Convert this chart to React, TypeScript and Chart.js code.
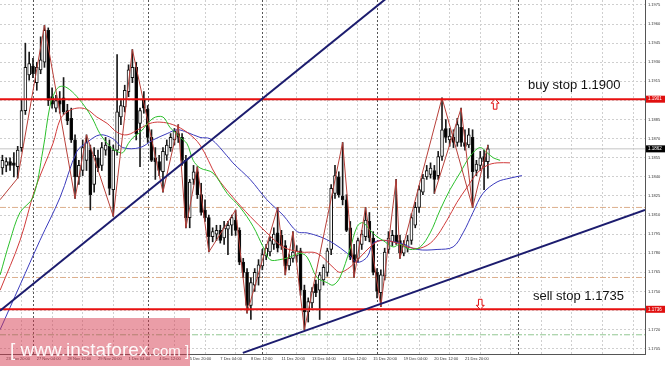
import { useEffect, useRef } from "react";
import { Chart, registerables } from "chart.js";

Chart.register(...registerables);

// ---------- scale ranges ----------
const X_MIN = -8.63;
const X_MAX = 160.1;
const Y_MIN = 1.17009;
const Y_MAX = 1.19789;

// ---------- candles (H4 bars, index 0 = 27 Nov 00:00) ----------
const FIRST_BAR = -8;
const candleOpen = [
  1.1847, 1.1849, 1.1852, 1.1851, 1.1848, 1.1863, 1.1892, 1.1920, // -8..-1
  1.1927, 1.1914, 1.1924, 1.1930, 1.1955, 1.1903, 1.1894, 1.1900, 1.1902, 1.1892, // 0..9
  1.1886, 1.1869, 1.1840, 1.1845, 1.1853, 1.1861, 1.1834, 1.1855, 1.1849, 1.1861, // 10..19
  1.1864, 1.1830, 1.1861, 1.1887, 1.1895, 1.1907, 1.1918, 1.1926, 1.1882, 1.1901, // 20..29
  1.1893, 1.1871, 1.1855, 1.1852, 1.1844, 1.1857, 1.1863, 1.1869, 1.1874, 1.1871, // 30..39
  1.1853, 1.1808, 1.1838, 1.1844, 1.1826, 1.1814, 1.1808, 1.1793, 1.1795, 1.1798, // 40..49
  1.1792, 1.1799, 1.1802, 1.1806, 1.1798, 1.1773, 1.1765, 1.1739, 1.1755, 1.1761, // 50..59
  1.1770, 1.1778, 1.1781, 1.1787, 1.1796, 1.1794, 1.1786, 1.1770, 1.1776, 1.1778, // 60..69
  1.1782, 1.1751, 1.1734, 1.1741, 1.1756, 1.1751, 1.1759, 1.1765, 1.1783, 1.1827, // 70..79
  1.1840, 1.1825, 1.1822, 1.1800, 1.1779, 1.1776, 1.1787, 1.1793, 1.1805, 1.1792, // 80..89
  1.1765, 1.1749, 1.1762, 1.1783, 1.1789, 1.1794, 1.1790, 1.1780, 1.1784, 1.1790, // 90..99
  1.1802, 1.1816, 1.1828, 1.1840, 1.1842, 1.1845, 1.1841, 1.1856, 1.1878, 1.1869, // 100..109
  1.1871, 1.1867, 1.1879, 1.1867, 1.1865, 1.1871, 1.1845, 1.1849, 1.1856, 1.1852, // 110..119
];
const candleHigh = [
  1.1857, 1.1855, 1.1855, 1.1859, 1.1864, 1.1900, 1.1945, 1.1938,
  1.1933, 1.1930, 1.1950, 1.1959, 1.1957, 1.1910, 1.1904, 1.1907, 1.1918, 1.1897,
  1.1894, 1.1873, 1.1853, 1.1869, 1.1873, 1.1865, 1.1863, 1.1861, 1.1867, 1.1871,
  1.1869, 1.1865, 1.1936, 1.1900, 1.1912, 1.1928, 1.1940, 1.1930, 1.1894, 1.1907,
  1.1896, 1.1877, 1.1863, 1.1857, 1.1863, 1.1869, 1.1874, 1.1878, 1.1881, 1.1874,
  1.1857, 1.1838, 1.1849, 1.1848, 1.1835, 1.1822, 1.1810, 1.1800, 1.1802, 1.1802,
  1.1805, 1.1805, 1.1810, 1.1814, 1.1800, 1.1776, 1.1768, 1.1761, 1.1768, 1.1775,
  1.1783, 1.1787, 1.1793, 1.1800, 1.1816, 1.1798, 1.1790, 1.1779, 1.1797, 1.1786,
  1.1784, 1.1755, 1.1745, 1.1753, 1.1759, 1.1765, 1.1771, 1.1784, 1.1834, 1.1849,
  1.1844, 1.1867, 1.1826, 1.1805, 1.1787, 1.1792, 1.1798, 1.1816, 1.1812, 1.1797,
  1.1768, 1.1767, 1.1784, 1.1797, 1.1798, 1.1838, 1.1794, 1.1790, 1.1794, 1.1811,
  1.1820, 1.1833, 1.1842, 1.1849, 1.1851, 1.1849, 1.1860, 1.1902, 1.1885, 1.1878,
  1.1877, 1.1886, 1.1894, 1.1877, 1.1878, 1.1877, 1.1853, 1.1860, 1.1861, 1.1865,
];
const candleLow = [
  1.1842, 1.1844, 1.1845, 1.1840, 1.1839, 1.1860, 1.1889, 1.1916,
  1.1918, 1.1908, 1.1921, 1.1926, 1.1896, 1.1894, 1.1891, 1.1890, 1.1889, 1.1881,
  1.1867, 1.1823, 1.1834, 1.1841, 1.1845, 1.1814, 1.1828, 1.1844, 1.1845, 1.1857,
  1.1826, 1.1809, 1.1857, 1.1881, 1.1891, 1.1903, 1.1914, 1.1869, 1.1848, 1.1890,
  1.1867, 1.1852, 1.1838, 1.1841, 1.1828, 1.1853, 1.1860, 1.1865, 1.1867, 1.1849,
  1.1800, 1.1800, 1.1834, 1.1823, 1.1810, 1.1805, 1.1781, 1.1789, 1.1790, 1.1788,
  1.1787, 1.1779, 1.1794, 1.1794, 1.1771, 1.1761, 1.1733, 1.1728, 1.1750, 1.1755,
  1.1767, 1.1775, 1.1778, 1.1783, 1.1781, 1.1783, 1.1763, 1.1767, 1.1773, 1.1773,
  1.1747, 1.1720, 1.1726, 1.1737, 1.1746, 1.1728, 1.1755, 1.1762, 1.1779, 1.1823,
  1.1824, 1.1818, 1.1797, 1.1775, 1.1761, 1.1773, 1.1783, 1.1790, 1.1789, 1.1763,
  1.1745, 1.1738, 1.1759, 1.1780, 1.1786, 1.1787, 1.1776, 1.1778, 1.1781, 1.1787,
  1.1800, 1.1812, 1.1826, 1.1838, 1.1839, 1.1827, 1.1838, 1.1853, 1.1867, 1.1864,
  1.1863, 1.1864, 1.1864, 1.1861, 1.1863, 1.1816, 1.1841, 1.1845, 1.1830, 1.1839,
];
const candleClose = [
  1.1853, 1.1852, 1.1849, 1.1849, 1.1861, 1.1892, 1.1926, 1.1929,
  1.1921, 1.1926, 1.1932, 1.1955, 1.1900, 1.1897, 1.1900, 1.1897, 1.1891, 1.1884,
  1.1869, 1.1840, 1.1849, 1.1863, 1.1867, 1.1826, 1.1857, 1.1847, 1.1863, 1.1865,
  1.1831, 1.1861, 1.1891, 1.1896, 1.1908, 1.1924, 1.1926, 1.1874, 1.1892, 1.1894,
  1.1871, 1.1853, 1.1852, 1.1845, 1.1860, 1.1865, 1.1871, 1.1876, 1.1871, 1.1853,
  1.1808, 1.1836, 1.1844, 1.1826, 1.1812, 1.1808, 1.1793, 1.1797, 1.1798, 1.1790,
  1.1800, 1.1802, 1.1808, 1.1798, 1.1773, 1.1765, 1.1739, 1.1757, 1.1765, 1.1771,
  1.1779, 1.1784, 1.1790, 1.1795, 1.1784, 1.1786, 1.1770, 1.1776, 1.1781, 1.1782,
  1.1751, 1.1734, 1.1742, 1.1750, 1.1749, 1.1763, 1.1769, 1.1782, 1.1831, 1.1841,
  1.1826, 1.1822, 1.1798, 1.1777, 1.1773, 1.1790, 1.1795, 1.1806, 1.1792, 1.1765,
  1.1750, 1.1763, 1.1781, 1.1792, 1.1794, 1.1789, 1.1780, 1.1787, 1.1790, 1.1808,
  1.1816, 1.1830, 1.1839, 1.1845, 1.1847, 1.1838, 1.1856, 1.1877, 1.1871, 1.1872,
  1.1867, 1.1881, 1.1867, 1.1864, 1.1873, 1.1844, 1.1850, 1.1855, 1.1852, 1.1862,
];

// ---------- axis ticks ----------
const xTickBars = [-7, 1, 9, 17, 25, 33, 41, 49, 57, 65, 73, 81, 89, 97, 105, 113];
const xTickLabels = [
  "23 Nov 20:00", "27 Nov 04:00", "28 Nov 12:00", "29 Nov 20:00", "1 Dec 04:00",
  "4 Dec 12:00", "5 Dec 20:00", "7 Dec 04:00", "8 Dec 12:00", "11 Dec 20:00",
  "13 Dec 04:00", "14 Dec 12:00", "15 Dec 20:00", "19 Dec 04:00", "20 Dec 12:00",
  "21 Dec 20:00",
];
const yTicks = [
  1.1705, 1.1720, 1.1735, 1.1750, 1.1765, 1.1780, 1.1795, 1.1810, 1.1825, 1.1840,
  1.1855, 1.1870, 1.1885, 1.1900, 1.1915, 1.1930, 1.1945, 1.1960, 1.1975,
];
const separatorBars = [0, 30, 60, 90, 126.9];

// ---------- Alligator lines (bar index, price) ----------
const jawLine: [number, number][] = [
  [-8.6, 1.1720], [-3.4, 1.1755], [1.8, 1.1790], [7.1, 1.1824], [11.5, 1.1860],
  [14.1, 1.1867], [17.5, 1.1873], [20.9, 1.1870], [23.5, 1.1863], [28.0, 1.1863],
  [31.4, 1.1869], [35.1, 1.1874], [37.7, 1.1877], [40.3, 1.1875], [43.7, 1.1871],
  [46.3, 1.1870], [48.9, 1.1863], [52.3, 1.1851], [56.8, 1.1838], [61.2, 1.1822],
  [65.4, 1.1810], [69.1, 1.1797], [71.7, 1.1796], [75.1, 1.1793], [78.5, 1.1788],
  [82.2, 1.1780], [84.8, 1.1773], [87.4, 1.1777], [89.0, 1.1788], [91.6, 1.1790],
  [96.0, 1.1788], [100.5, 1.1783], [105.7, 1.1783], [109.9, 1.1785], [112.5, 1.1796],
  [115.1, 1.1812], [117.7, 1.1827], [121.4, 1.1836], [124.8, 1.1839], [127.9, 1.1841],
];
const teethLine: [number, number][] = [
  [-8.6, 1.1751], [-3.4, 1.1790], [0.5, 1.1830], [5.2, 1.1866], [7.1, 1.1885],
  [8.9, 1.1891], [11.5, 1.1894], [14.1, 1.1893], [16.7, 1.1887], [19.4, 1.1882],
  [22.0, 1.1875], [24.6, 1.1873], [28.0, 1.1878], [30.6, 1.1882], [33.2, 1.1883],
  [36.6, 1.1881], [40.3, 1.1875], [43.7, 1.1865], [48.1, 1.1840], [52.3, 1.1824],
  [56.8, 1.1809], [61.2, 1.1796], [65.4, 1.1785], [69.9, 1.1781], [74.3, 1.1780],
  [78.5, 1.1769], [80.3, 1.1765], [82.9, 1.1769], [85.6, 1.1777], [88.2, 1.1785],
  [90.8, 1.1790], [94.2, 1.1789], [97.9, 1.1785], [101.3, 1.1784], [104.7, 1.1790],
  [108.3, 1.1806], [110.9, 1.1820], [113.6, 1.1832], [116.2, 1.1843], [118.8, 1.1849],
  [121.4, 1.1851], [124.8, 1.1851],
];
const lipsLine: [number, number][] = [
  [-8.6, 1.1763], [-6.0, 1.1790], [-3.4, 1.1812], [0, 1.1824], [2.6, 1.1861],
  [4.4, 1.1895], [5.8, 1.1907], [7.1, 1.1911], [8.9, 1.1910], [11.5, 1.1903],
  [14.1, 1.1893], [15.7, 1.1885], [17.5, 1.1874], [20.1, 1.1864], [22.0, 1.1860],
  [23.5, 1.1859], [24.9, 1.1866], [26.2, 1.1871], [28.0, 1.1875], [31.4, 1.1886],
  [34.0, 1.1887], [35.8, 1.1879], [38.5, 1.1871], [40.3, 1.1866], [41.9, 1.1853],
  [43.7, 1.1847], [47.1, 1.1843], [50.8, 1.1827], [54.2, 1.1816], [57.6, 1.1801],
  [60.2, 1.1785], [62.0, 1.1775], [64.6, 1.1775], [67.2, 1.1777], [69.9, 1.1780],
  [71.7, 1.1777], [74.3, 1.1761], [76.9, 1.1757], [78.5, 1.1755], [80.3, 1.1761],
  [82.9, 1.1783], [84.8, 1.1801], [86.3, 1.1804], [88.2, 1.1798], [90.0, 1.1793],
  [91.6, 1.1790], [94.2, 1.1785], [96.0, 1.1787], [98.6, 1.1783], [101.3, 1.1785],
  [103.9, 1.1796], [106.5, 1.1814], [109.1, 1.1830], [111.7, 1.1843], [114.3, 1.1856],
  [116.9, 1.1863], [118.8, 1.1859], [120.4, 1.1855], [122.2, 1.1853],
];

// ---------- ZigZag pivots ----------
const zigzagMain: [number, number][] = [
  [-8.63, 1.1822], [-4, 1.1839], [3, 1.1959], [11, 1.1823], [14, 1.1873], [21, 1.1809],
  [26, 1.1940], [34, 1.1828], [38, 1.1881], [40, 1.1800], [43, 1.1848], [46, 1.1781],
  [53, 1.1814], [56, 1.1733], [64, 1.1816], [66, 1.1763], [68, 1.1797], [71, 1.1720],
  [81, 1.1867], [84, 1.1761], [87, 1.1816], [91, 1.1738], [95, 1.1838], [96, 1.1776],
  [107, 1.1902], [115, 1.1816], [119, 1.1865],
];
const zigzagMinor: [number, number][] = [[105, 1.1827], [112, 1.1894], [115, 1.1816]];

// ---------- objects ----------
const buyStopLevel = 1.1901;
const sellStopLevel = 1.1736;
const bidLevel = 1.1862;
const dashDotLevels = [1.1816, 1.1761];
const greenDashLevel = 1.1716;
const trendLineA: [number, number][] = [[-8.63, 1.17348], [100, 1.19985]];
const trendLineB: [number, number][] = [[54.9, 1.17018], [160.1, 1.1814]];
const buyArrow = { bar: 120.9, price: 1.1901 };
const sellArrow = { bar: 117.0, price: 1.1736 };
const buyText = { bar: 129.5, price: 1.1909, text: "buy stop 1.1900" };
const sellText = { bar: 130.8, price: 1.17434, text: "sell stop 1.1735" };
const axisTags = [
  { level: 1.1901, text: "1.1901", color: "#e01010" },
  { level: 1.1862, text: "1.1862", color: "#000000" },
  { level: 1.1736, text: "1.1736", color: "#e01010" },
];
const watermarkText = ["[ www.instaforex", ".com ]"];

const bars = candleOpen.map((_, k) => FIRST_BAR + k);
const pts = (arr: [number, number][]) => arr.map(([x, y]) => ({ x, y }));
const hLine = (level: number) => [{ x: X_MIN, y: level }, { x: X_MAX, y: level }];

const lineDs = (data: any[], color: string, width: number, order: number, extra: any = {}) => ({
  type: "line" as const,
  data,
  borderColor: color,
  borderWidth: width,
  pointRadius: 0,
  fill: false,
  order,
  ...extra,
});

const overlayPlugin = {
  id: "overlay",
  beforeDatasetsDraw(chart: any) {
    const { ctx, chartArea: a, scales } = chart;
    const x = scales.x;
    ctx.save();
    ctx.strokeStyle = "#555555";
    ctx.lineWidth = 1;
    ctx.setLineDash([2, 2]);
    separatorBars.forEach((b) => {
      const px = Math.round(x.getPixelForValue(b)) + 0.5;
      ctx.beginPath();
      ctx.moveTo(px, a.top);
      ctx.lineTo(px, a.bottom);
      ctx.stroke();
    });
    ctx.restore();
  },
  afterDatasetsDraw(chart: any) {
    const { ctx, scales } = chart;
    const x = scales.x;
    const y = scales.y;
    ctx.save();
    // arrows
    const drawArrow = (bx: number, price: number, up: boolean) => {
      const cx = x.getPixelForValue(bx);
      const py = y.getPixelForValue(price);
      const dir = up ? 1 : -1;
      const t = py; // anchor
      ctx.beginPath();
      ctx.moveTo(cx, t);
      ctx.lineTo(cx + 4, t + dir * 4);
      ctx.lineTo(cx + 1.8, t + dir * 4);
      ctx.lineTo(cx + 1.8, t + dir * 10);
      ctx.lineTo(cx - 1.8, t + dir * 10);
      ctx.lineTo(cx - 1.8, t + dir * 4);
      ctx.lineTo(cx - 4, t + dir * 4);
      ctx.closePath();
      ctx.fillStyle = "#ffffff";
      ctx.fill();
      ctx.strokeStyle = "#e01010";
      ctx.lineWidth = 1;
      ctx.stroke();
    };
    drawArrow(buyArrow.bar, buyArrow.price, true);
    drawArrow(sellArrow.bar, sellArrow.price, false);
    // texts
    ctx.fillStyle = "#111111";
    ctx.font = '13px "Liberation Sans", Arial, sans-serif';
    ctx.textAlign = "left";
    ctx.textBaseline = "alphabetic";
    [buyText, sellText].forEach((t) => {
      ctx.fillText(t.text, x.getPixelForValue(t.bar), y.getPixelForValue(t.price));
    });
    ctx.restore();
  },
  afterDraw(chart: any) {
    const { ctx, chartArea: a, scales } = chart;
    const y = scales.y;
    ctx.save();
    axisTags.forEach((t) => {
      const py = y.getPixelForValue(t.level);
      ctx.fillStyle = t.color;
      ctx.fillRect(a.right + 1, py - 3.5, 19, 7);
      ctx.fillStyle = "#ffffff";
      ctx.font = '4.5px "Liberation Sans", Arial, sans-serif';
      ctx.textAlign = "left";
      ctx.textBaseline = "middle";
      ctx.fillText(t.text, a.right + 3, py);
    });
    // watermark
    ctx.fillStyle = "rgba(214, 60, 80, 0.5)";
    ctx.fillRect(0, 318, 190, 48);
    ctx.fillStyle = "rgba(255,255,255,0.95)";
    ctx.textBaseline = "alphabetic";
    ctx.textAlign = "left";
    ctx.font = '19px "Liberation Sans", Arial, sans-serif';
    ctx.fillText(watermarkText[0], 10, 356);
    const w = ctx.measureText(watermarkText[0]).width;
    ctx.font = '15px "Liberation Sans", Arial, sans-serif';
    ctx.fillText(watermarkText[1], 10 + w, 356);
    ctx.restore();
  },
};

export default function App() {
  const ref = useRef<HTMLCanvasElement>(null);
  useEffect(() => {
    document.body.style.margin = "0";
    const tickFont = { family: '"Liberation Sans", Arial, sans-serif', size: 4 };
    const chart = new Chart(ref.current as HTMLCanvasElement, {
      type: "line",
      data: {
        datasets: [
          lineDs(hLine(bidLevel), "#c4c4c4", 1, 40),
          ...dashDotLevels.map((lv) => lineDs(hLine(lv), "#dcae8c", 1, 40, { borderDash: [6, 2, 2, 2] })),
          lineDs(hLine(greenDashLevel), "#92c892", 1, 40, { borderDash: [6, 2, 2, 2] }),
          {
            type: "bar" as const,
            data: bars.map((b, k) => ({ x: b, y: [candleLow[k], candleHigh[k]] })),
            backgroundColor: "#1a1a1a",
            borderWidth: 0,
            barThickness: 1,
            grouped: false,
            order: 31,
          },
          {
            type: "bar" as const,
            data: bars.map((b, k) => ({ x: b, y: [candleOpen[k], candleClose[k]] })),
            backgroundColor: bars.map((_, k) => (candleClose[k] >= candleOpen[k] ? "#ffffff" : "#000000")),
            borderColor: "#111111",
            borderWidth: 1,
            borderSkipped: false,
            barThickness: 3,
            grouped: false,
            order: 30,
          },
          lineDs(pts(jawLine), "#3b3bbd", 1, 12, { tension: 0.35 }),
          lineDs(pts(teethLine), "#d03a3a", 1, 11, { tension: 0.35 }),
          lineDs(pts(lipsLine), "#2cc02c", 1, 10, { tension: 0.35 }),
          lineDs(pts(zigzagMain), "#b8403a", 1, 9),
          lineDs(pts(zigzagMinor), "#b8403a", 1, 9),
          lineDs(hLine(buyStopLevel), "#e81010", 2, 5),
          lineDs(hLine(sellStopLevel), "#e81010", 2, 5),
          lineDs(pts(trendLineA), "#1c1c6e", 2, 4),
          lineDs(pts(trendLineB), "#1c1c6e", 2, 4),
        ] as any,
      },
      options: {
        responsive: false,
        animation: false,
        devicePixelRatio: 1,
        layout: { padding: 0 },
        plugins: { legend: { display: false }, tooltip: { enabled: false } },
        scales: {
          x: {
            type: "linear",
            min: X_MIN,
            max: X_MAX,
            bounds: "data",
            offset: false,
            position: "bottom",
            grid: { color: "#cfcfcf", drawTicks: false, lineWidth: 1 },
            border: { display: true, color: "#555555", width: 1, dash: [2, 2] },
            ticks: {
              font: tickFont,
              color: "#333333",
              padding: 2,
              align: "start",
              maxRotation: 0,
              autoSkip: false,
              callback: (v: any) => {
                const k = xTickBars.indexOf(Number(v));
                return k >= 0 ? xTickLabels[k] : "";
              },
            },
            afterBuildTicks: (s: any) => {
              const list: { value: number }[] = [];
              for (let b = xTickBars[0]; b <= X_MAX; b += 8) list.push({ value: b });
              s.ticks = list;
            },
            afterFit: (s: any) => {
              s.height = 12;
              s.paddingLeft = 0;
              s.paddingRight = 0;
            },
          },
          y: {
            type: "linear",
            min: Y_MIN,
            max: Y_MAX,
            bounds: "data",
            position: "right",
            grid: { color: "#cfcfcf", drawTicks: false, lineWidth: 1 },
            border: { display: true, color: "#555555", width: 1, dash: [2, 2] },
            ticks: {
              font: tickFont,
              color: "#333333",
              padding: 3,
              autoSkip: false,
              callback: (v: any) => Number(v).toFixed(4),
            },
            afterBuildTicks: (s: any) => {
              s.ticks = yTicks.map((v) => ({ value: v }));
            },
            afterFit: (s: any) => {
              s.width = 20;
              s.paddingTop = 0;
              s.paddingBottom = 0;
            },
          },
        },
      } as any,
      plugins: [overlayPlugin],
    });
    return () => chart.destroy();
  }, []);
  return (
    <div style={{ width: 665, height: 366, background: "#ffffff" }}>
      <canvas ref={ref} width={665} height={366} style={{ display: "block" }} />
    </div>
  );
}
